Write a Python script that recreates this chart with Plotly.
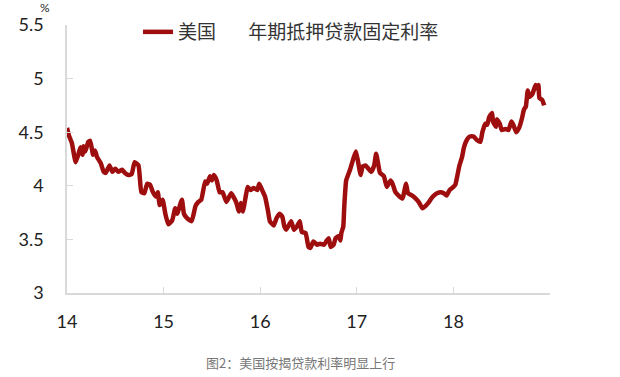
import plotly.graph_objects as go

# Time in fractional years (14 = 2014), value in %
years = [14.00, 14.02, 14.05, 14.09, 14.12, 14.14, 14.16, 14.17, 14.19, 14.22, 14.24, 14.27, 14.29, 14.31,
         14.35, 14.38, 14.40, 14.44, 14.47, 14.50, 14.53, 14.57, 14.60, 14.64, 14.67, 14.70, 14.74, 14.77,
         14.80, 14.83, 14.86, 14.89, 14.92, 14.94, 14.96, 14.99, 15.02, 15.05, 15.09, 15.12, 15.14, 15.19,
         15.21, 15.24, 15.29, 15.33, 15.36, 15.39, 15.43, 15.45, 15.48, 15.50, 15.52, 15.55, 15.58, 15.61,
         15.65, 15.68, 15.70, 15.75, 15.78, 15.80, 15.82, 15.85, 15.87, 15.90, 15.93, 15.97, 15.99, 16.02,
         16.05, 16.08, 16.10, 16.14, 16.17, 16.20, 16.23, 16.25, 16.27, 16.32, 16.35, 16.38, 16.41, 16.43,
         16.47, 16.50, 16.52, 16.55, 16.59, 16.62, 16.66, 16.69, 16.71, 16.73, 16.76, 16.78, 16.81, 16.83,
         16.84, 16.86, 16.87, 16.89, 16.93, 16.96, 16.99, 17.01, 17.04, 17.06, 17.09, 17.12, 17.15, 17.18,
         17.20, 17.22, 17.24, 17.28, 17.31, 17.35, 17.37, 17.40, 17.43, 17.47, 17.48, 17.51, 17.53, 17.57,
         17.61, 17.64, 17.68, 17.71, 17.74, 17.77, 17.80, 17.83, 17.87, 17.90, 17.93, 17.96, 18.00, 18.02,
         18.04, 18.06, 18.09, 18.11, 18.14, 18.17, 18.21, 18.24, 18.28, 18.30, 18.33, 18.35, 18.37, 18.40,
         18.41, 18.44, 18.45, 18.48, 18.50, 18.54, 18.57, 18.60, 18.62, 18.65, 18.68, 18.71, 18.73, 18.75,
         18.77, 18.79, 18.82, 18.85, 18.86, 18.88, 18.89, 18.92, 18.94]
rate = [4.54, 4.47, 4.40, 4.22, 4.30, 4.36, 4.29, 4.37, 4.32, 4.41, 4.42, 4.29, 4.33, 4.27,
        4.21, 4.13, 4.12, 4.19, 4.13, 4.16, 4.13, 4.15, 4.12, 4.10, 4.11, 4.22, 4.19, 3.94,
        3.93, 4.02, 4.01, 3.94, 3.90, 3.94, 3.82, 3.87, 3.73, 3.64, 3.68, 3.79, 3.74, 3.87,
        3.74, 3.70, 3.67, 3.81, 3.85, 3.87, 4.04, 4.02, 4.09, 4.05, 4.10, 4.05, 3.94, 3.94,
        3.85, 3.90, 3.93, 3.85, 3.76, 3.84, 3.76, 3.90, 3.99, 3.96, 3.98, 3.96, 4.02, 3.96,
        3.90, 3.77, 3.67, 3.63, 3.70, 3.74, 3.71, 3.62, 3.59, 3.67, 3.59, 3.62, 3.67, 3.57,
        3.56, 3.43, 3.42, 3.48, 3.45, 3.46, 3.45, 3.49, 3.51, 3.43, 3.45, 3.51, 3.53, 3.49,
        3.56, 3.62, 3.80, 4.05, 4.15, 4.24, 4.32, 4.24, 4.10, 4.18, 4.19, 4.16, 4.13, 4.19,
        4.30, 4.21, 4.12, 4.09, 3.99, 4.05, 4.02, 3.94, 3.91, 3.88, 3.90, 4.02, 3.93, 3.91,
        3.88, 3.85, 3.79, 3.81, 3.84, 3.88, 3.91, 3.93, 3.94, 3.93, 3.91, 3.96, 3.99, 4.01,
        4.09, 4.18, 4.27, 4.36, 4.43, 4.46, 4.46, 4.43, 4.41, 4.50, 4.58, 4.57, 4.64, 4.68,
        4.60, 4.55, 4.62, 4.58, 4.52, 4.53, 4.52, 4.60, 4.57, 4.50, 4.54, 4.63, 4.71, 4.74,
        4.89, 4.83, 4.86, 4.94, 4.91, 4.94, 4.82, 4.80, 4.75]

x_ticks = [14, 15, 16, 17, 18]
x_labels = ["14", "15", "16", "17", "18"]
y_ticks = [3, 3.5, 4, 4.5, 5, 5.5]
y_labels = ["3", "3.5", "4", "4.5", "5", "5.5"]

series_name = "美国\u3000\u2002\u2009年期抵押贷款固定利率"
caption = "图2：美国按揭贷款利率明显上行"

W, H = 620, 377
ML, MR, MT, MB = 67, 70, 25, 84
pw = W - ML - MR
ph = H - MT - MB


def px_x(p):
    return (p - ML) / pw


def px_y(p):
    return (H - MB - p) / ph


fig = go.Figure()
fig.add_trace(go.Scatter(
    x=years, y=rate, mode="lines", name=series_name,
    line=dict(color="#9E0E0E", width=4.5, shape="spline", smoothing=0.4),
))

axis_col = "#D9D9D9"
fig.update_layout(
    width=W, height=H,
    margin=dict(l=ML, r=MR, t=MT, b=MB, autoexpand=False),
    paper_bgcolor="white", plot_bgcolor="white",
    font=dict(family="Lato, 'Noto Sans CJK SC', sans-serif", color="#222222", size=18),
    showlegend=True,
    legend=dict(
        orientation="h", x=px_x(138), y=px_y(32), xanchor="left", yanchor="middle",
        font=dict(family="'Noto Sans CJK SC', sans-serif", size=19, color="#333333"),
        bgcolor="rgba(0,0,0,0)", itemwidth=30,
    ),
    xaxis=dict(
        range=[14, 19.0], tickvals=x_ticks, ticktext=x_labels,
        showline=True, linecolor=axis_col, linewidth=1.5,
        ticks="inside", ticklen=6, tickcolor=axis_col, tickwidth=1,
        showgrid=False, zeroline=False, ticklabelstandoff=12,
    ),
    yaxis=dict(
        range=[3, 5.5], tickvals=y_ticks, ticktext=y_labels,
        showline=True, linecolor=axis_col, linewidth=1.5,
        ticks="inside", ticklen=6, tickcolor=axis_col, tickwidth=1,
        showgrid=False, zeroline=False, ticklabelstandoff=18,
    ),
    annotations=[
        dict(text="%", x=px_x(45), y=px_y(8), xref="paper", yref="paper", showarrow=False,
             xanchor="center", yanchor="middle",
             font=dict(size=12, color="#222222")),
        dict(text=caption, x=px_x(300), y=px_y(362), xref="paper", yref="paper", showarrow=False,
             xanchor="center", yanchor="middle",
             font=dict(family="'Noto Sans CJK SC', sans-serif", size=13, color="#777777")),
    ],
)

fig.write_html("out.html")
